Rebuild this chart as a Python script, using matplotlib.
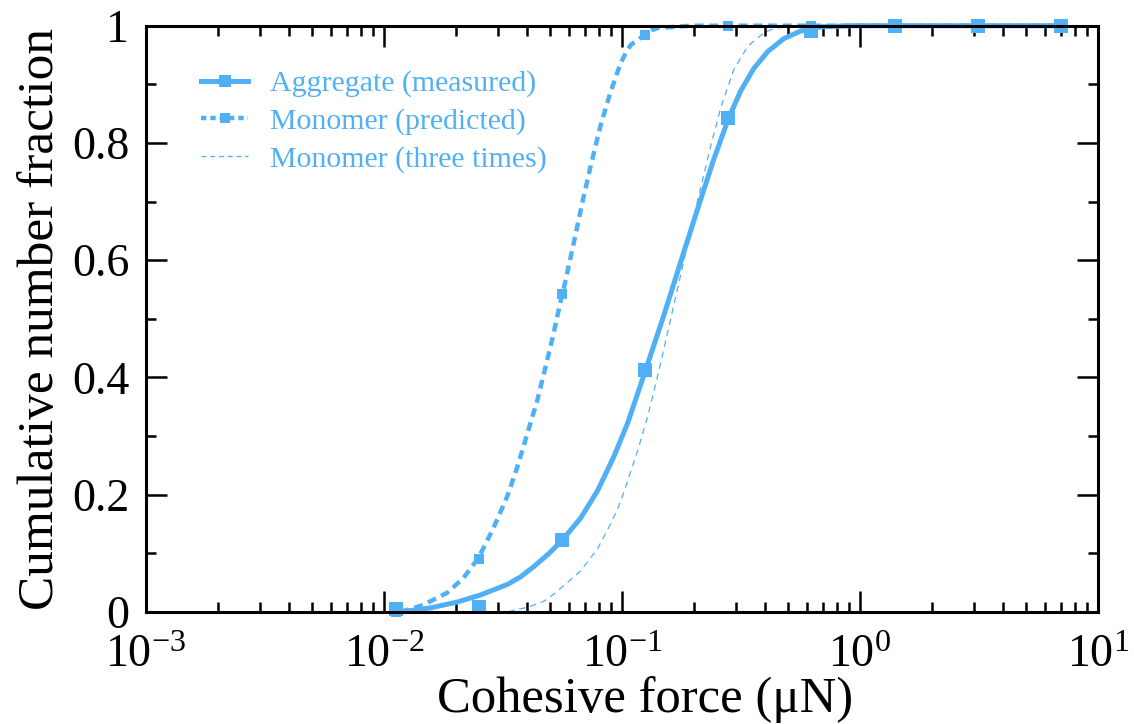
import matplotlib
matplotlib.use('Agg')
import matplotlib.pyplot as plt
from matplotlib.lines import Line2D
from matplotlib.ticker import LogLocator, MultipleLocator, FormatStrFormatter

plt.rcParams['font.family'] = ['Liberation Serif', 'DejaVu Serif']
plt.rcParams['mathtext.fontset'] = 'custom'
plt.rcParams['mathtext.rm'] = 'Liberation Serif'
plt.rcParams['mathtext.it'] = 'Liberation Serif:italic'

blue = '#50b0f5'

# measured points (aggregate) and predicted points (monomer)
force_pts = [0.0112, 0.025, 0.056, 0.125, 0.28, 0.625, 1.4, 3.13, 7.0]
agg_pts = [0.005, 0.008, 0.122, 0.412, 0.843, 0.991, 1.0, 1.0, 1.0]
mono_pts = [0.0, 0.09, 0.542, 0.984, 1.0, 1.0, 1.0, 1.0, 1.0]

# fitted curves
agg_fit_x = [0.01115, 0.01328, 0.01566, 0.02034, 0.02542, 0.03302, 0.03750,
             0.04246, 0.04911, 0.05624, 0.06697, 0.07897, 0.09219, 0.1056,
             0.1257, 0.1496, 0.1764, 0.2080, 0.2429, 0.2809, 0.3154, 0.3578,
             0.4098, 0.4784, 0.5641, 0.6847, 0.9157, 1.4, 3.13, 7.0]
agg_fit_y = [0.0, 0.003, 0.007, 0.017, 0.029, 0.047, 0.060,
             0.077, 0.099, 0.123, 0.160, 0.207, 0.264, 0.322,
             0.413, 0.505, 0.597, 0.688, 0.772, 0.843, 0.889, 0.927,
             0.956, 0.978, 0.991, 0.998, 1.0, 1.0, 1.0, 1.0]

mono_fit_x = [0.01171, 0.01463, 0.01846, 0.02157, 0.02493, 0.02883, 0.03302,
              0.03637, 0.04007, 0.04414, 0.04680, 0.05105, 0.05516, 0.05624,
              0.06197, 0.06828, 0.07378, 0.08128, 0.08954, 0.09865, 0.1036,
              0.1087, 0.1185, 0.1257, 0.1330, 0.1412, 0.1943, 0.3, 1.4, 7.0]
mono_fit_y = [0.0, 0.012, 0.033, 0.058, 0.092, 0.143, 0.198,
              0.248, 0.305, 0.362, 0.404, 0.467, 0.529, 0.542,
              0.62, 0.70, 0.76, 0.83, 0.887, 0.936, 0.953,
              0.967, 0.978, 0.986, 0.992, 0.996, 1.0, 1.0, 1.0, 1.0]

mono3_fit_x = [0.03334, 0.035, 0.04007, 0.04680, 0.05155, 0.06078, 0.06697,
               0.07897, 0.08954, 0.0968, 0.1016, 0.1163, 0.1281, 0.1384,
               0.1496, 0.1730, 0.2040, 0.2359, 0.2599, 0.2948, 0.3377,
               0.3942, 0.4344, 0.5121, 1.4, 7.0]
mono3_fit_y = [0.0, 0.003, 0.008, 0.018, 0.030, 0.055, 0.070,
               0.108, 0.150, 0.180, 0.203, 0.275, 0.333, 0.388,
               0.447, 0.560, 0.688, 0.795, 0.860, 0.925, 0.965,
               0.988, 0.995, 1.0, 1.0, 1.0]

fig = plt.figure(figsize=(11.34, 7.24), dpi=100)
ax = fig.add_axes([0.1287, 0.1547, 0.9683 - 0.1287, 0.9645 - 0.1547])

ax.plot(agg_fit_x, agg_fit_y, color=blue, lw=3.6, solid_capstyle='butt',
        solid_joinstyle='round', clip_on=False)
ax.plot(mono_fit_x, mono_fit_y, color=blue, lw=3.2, ls=(0, (2, 1.3)), clip_on=False)
ax.plot(mono3_fit_x, mono3_fit_y, color=blue, lw=0.9, ls=(0, (5, 4)), clip_on=False)
ax.plot(force_pts, agg_pts, ls='none', marker='s', ms=10.5, color=blue, mew=0, clip_on=False)
ax.plot(force_pts, mono_pts, ls='none', marker='s', ms=7, color=blue, mew=0, clip_on=False)

ax.set_xscale('log')
ax.set_xlim(1e-3, 1e1)
ax.set_ylim(0, 1)

ax.xaxis.set_major_locator(LogLocator(base=10, numticks=10))
ax.xaxis.set_minor_locator(LogLocator(base=10, subs=range(2, 10), numticks=50))
ax.yaxis.set_major_locator(MultipleLocator(0.2))
ax.yaxis.set_minor_locator(MultipleLocator(0.1))
ax.yaxis.set_major_formatter(FormatStrFormatter('%g'))

ax.tick_params(which='both', direction='in', top=True, right=True, width=1.8, colors='black')
ax.tick_params(which='major', length=15, labelsize=33)
ax.tick_params(which='minor', length=7)
ax.tick_params(axis='x', which='major', pad=16)
ax.tick_params(axis='y', which='major', pad=12)
for side in ax.spines.values():
    side.set_linewidth(2.2)

ax.set_xlabel('Cohesive force (μN)', fontsize=36.5, labelpad=0)
ax.xaxis.set_label_coords(0.524, -0.109)
ax.set_ylabel('Cumulative number fraction', fontsize=37, labelpad=6)

handles = [
    Line2D([], [], color=blue, lw=3.6, marker='s', ms=9, mew=0),
    Line2D([], [], color=blue, lw=3.2, ls=(0, (1.2, 0.9)), marker='s', ms=7, mew=0),
    Line2D([], [], color=blue, lw=0.9, ls=(0, (4, 3))),
]
labels = ['Aggregate (measured)', 'Monomer (predicted)', 'Monomer (three times)']
leg = ax.legend(handles, labels, loc='upper left', bbox_to_anchor=(0.03, 0.97),
                frameon=False, fontsize=21.5, handlelength=1.55, handletextpad=0.75,
                labelspacing=0.35, numpoints=1)
for t in leg.get_texts():
    t.set_color(blue)

fig.savefig('out.png', dpi=100)
